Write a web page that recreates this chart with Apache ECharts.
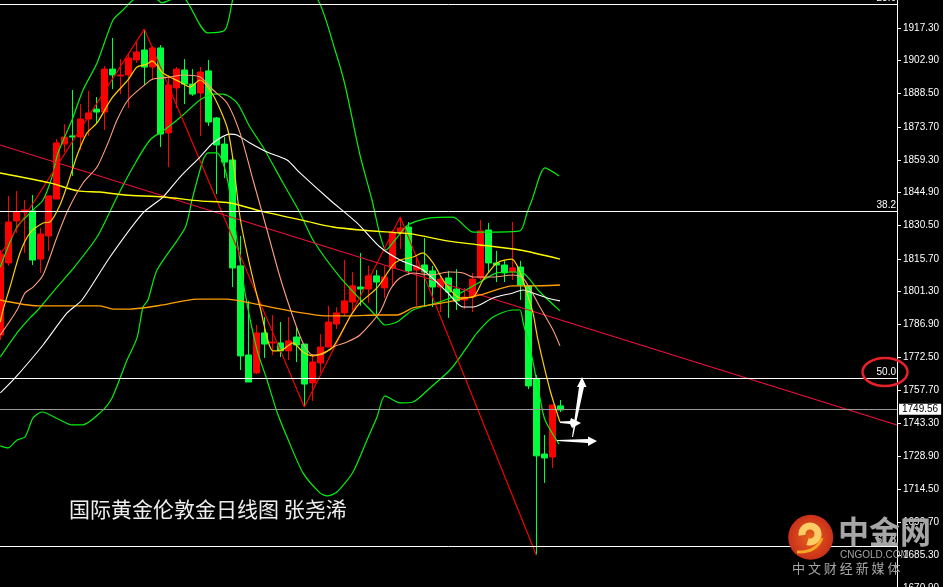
<!DOCTYPE html>
<html>
<head>
<meta charset="utf-8">
<style>html,body{margin:0;padding:0;background:#000;overflow:hidden}#c{width:945px;height:587px}</style>
<script src="https://cdn.jsdelivr.net/npm/echarts@6/dist/echarts.min.js"></script>
</head>
<body>
<div id="c"></div>
<script>
// candle values: [open, close, low, high], one per trading day (index = position)
var candles = [
[1782.2,1817.8,1780.0,1819.6],[1813.9,1831.9,1812.6,1843.4],[1832.4,1836.3,1827.1,1845.6],[1836.3,1837.2,1818.3,1841.6],
[1836.8,1815.2,1813.0,1843.8],[1815.6,1826.6,1809.5,1829.3],[1825.8,1843.4,1819.2,1843.4],[1842.0,1866.7,1842.0,1868.4],
[1866.2,1869.3,1862.7,1875.0],[1869.8,1869.3,1852.2,1890.0],[1869.3,1877.2,1863.6,1883.8],[1877.2,1879.9,1869.8,1889.6],
[1881.6,1880.3,1875.5,1886.9],[1880.3,1899.2,1872.4,1900.6],[1899.2,1896.6,1890.4,1912.9],[1896.2,1896.6,1888.2,1903.6],
[1896.6,1904.1,1882.1,1905.8],[1903.2,1906.7,1901.9,1911.1],[1907.6,1900.1,1892.2,1916.8],[1900.1,1908.5,1894.4,1909.4],
[1908.5,1870.6,1864.9,1909.8],[1871.1,1892.2,1856.1,1896.6],[1890.9,1899.2,1882.1,1900.1],[1898.8,1892.6,1883.8,1903.6],
[1892.6,1888.2,1887.4,1899.2],[1888.7,1897.9,1869.8,1900.1],[1898.4,1875.9,1874.2,1903.2],[1877.7,1865.8,1844.2,1878.1],
[1866.2,1858.3,1851.3,1869.3],[1859.2,1811.7,1803.3,1860.5],[1812.6,1773.0,1766.8,1825.8],[1773.4,1761.5,1761.5,1797.2],
[1765.5,1783.1,1765.0,1786.6],[1783.1,1778.2,1772.1,1790.1],[1778.7,1779.1,1773.4,1791.0],[1778.7,1775.2,1772.5,1787.9],
[1775.2,1779.6,1771.2,1790.1],[1781.3,1777.8,1770.3,1785.7],[1778.2,1760.6,1750.5,1778.2],[1761.1,1770.3,1753.2,1773.8],
[1769.9,1776.9,1765.5,1782.6],[1776.9,1787.9,1776.9,1795.0],[1787.0,1791.9,1784.8,1794.5],[1791.9,1797.2,1790.6,1815.2],
[1796.7,1803.8,1793.2,1809.9],[1803.3,1802.4,1795.0,1818.3],[1802.4,1808.2,1796.3,1812.6],[1808.2,1805.5,1791.4,1810.8],
[1802.9,1807.7,1798.5,1812.6],[1811.7,1827.5,1804.2,1828.4],[1827.1,1829.3,1820.0,1834.1],[1829.7,1810.4,1808.6,1831.9],
[1810.8,1812.6,1795.0,1816.5],[1813.0,1809.9,1794.5,1824.9],[1810.4,1803.3,1794.5,1812.6],[1803.3,1806.8,1792.3,1808.2],
[1807.3,1801.1,1789.7,1810.4],[1802.4,1797.2,1793.2,1811.2],[1797.6,1798.9,1793.6,1802.9],[1798.9,1806.8,1792.3,1809.5],
[1807.3,1828.0,1806.4,1832.8],[1828.4,1813.9,1809.5,1831.5],[1813.9,1813.0,1805.5,1819.2],[1813.0,1809.5,1805.5,1815.2],
[1809.9,1811.7,1806.4,1831.9],[1812.1,1804.2,1797.6,1814.8],[1803.8,1759.8,1758.4,1803.8],[1762.8,1729.0,1685.4,1764.6],
[1729.8,1728.1,1717.1,1738.2],[1728.5,1751.4,1723.7,1751.4],[1751.0,1749.2,1748.3,1753.6]
];
var candlePoints = candles.map(function (c, i) { return [i, c[0], c[1], c[2], c[3]]; });

var fastMA = [[0,1787.9],[0.34,1793.2],[1.21,1803.3],[2.46,1818.3],[3.71,1827.1],[5.34,1831.5],[6.21,1831.9],[7.46,1839.4],[8.46,1849.1],[9.71,1862.3],[10.84,1871.1],[12.09,1875.5],[13.96,1886.5],[15.96,1894.4],[17.09,1900.1],[18.34,1901.4],[18.96,1902.8],[20.34,1897.5],[22.46,1893.5],[23.71,1891.3],[24.96,1894.4],[26.59,1887.8],[28.34,1873.7],[29.09,1859.2],[29.96,1834.1],[30.96,1816.5],[32.46,1794.5],[34.09,1775.2],[35.21,1775.6],[36.59,1778.7],[37.84,1774.7],[39.09,1773.0],[40.34,1774.3],[41.59,1776.9],[43.71,1790.1],[44.96,1796.3],[47.09,1802.9],[49.09,1813.0],[49.96,1815.2],[51.59,1816.5],[52.84,1818.3],[54.09,1813.9],[55.34,1806.4],[56.59,1800.7],[57.46,1798.5],[59.09,1798.9],[60.34,1806.4],[62.09,1813.9],[63.96,1815.6],[64.96,1809.9],[65.84,1800.7],[66.59,1791.9],[67.21,1780.0],[68.71,1758.0],[69.96,1743.9]];
var salmonMA = [[0,1782.2],[2.09,1793.2],[3.09,1800.7],[4.09,1803.3],[5.34,1808.6],[7.09,1825.3],[8.46,1837.2],[10.34,1849.1],[12.09,1856.1],[13.46,1866.7],[14.59,1876.8],[15.96,1885.6],[18.34,1893.1],[19.09,1894.8],[21.21,1895.7],[22.84,1896.6],[24.96,1895.7],[26.59,1890.0],[28.34,1884.3],[29.96,1871.1],[31.59,1850.4],[33.34,1828.4],[34.96,1807.7],[36.59,1790.1],[37.84,1778.7],[39.09,1773.4],[40.34,1773.8],[41.59,1776.9],[43.34,1779.1],[44.96,1782.2],[47.46,1792.3],[48.71,1802.0],[49.96,1807.3],[51.59,1809.5],[53.71,1808.6],[56.21,1809.9],[57.84,1809.5],[59.09,1807.7],[61.59,1807.7],[64.09,1808.6],[65.34,1807.3],[67.46,1794.5],[69.09,1784.4],[69.96,1777.4]];
var whiteMA = [[0,1756.7],[1.84,1763.3],[5.34,1777.8],[8.34,1791.9],[10.21,1797.6],[13.71,1816.5],[17.84,1835.9],[20.34,1842.9],[22.46,1851.7],[24.96,1860.5],[26.59,1866.7],[28.71,1870.6],[29.59,1870.2],[31.21,1866.7],[33.34,1862.7],[35.84,1859.2],[37.46,1853.5],[41.21,1841.6],[44.59,1831.5],[47.46,1820.9],[49.96,1815.2],[52.84,1810.8],[55.84,1801.1],[57.84,1794.5],[59.09,1794.5],[61.59,1798.5],[64.09,1800.7],[65.34,1802.0],[66.21,1801.1],[68.34,1798.5],[69.96,1797.2]];
var yellowMA = [[-0.04,1853.5],[6.21,1849.1],[9.71,1845.6],[12.46,1845.1],[15.59,1843.8],[20.34,1842.9],[24.96,1841.2],[28.71,1840.3],[32.46,1836.8],[38.09,1832.4],[41.59,1829.7],[44.96,1828.4],[49.96,1827.1],[51.59,1826.6],[55.84,1823.6],[59.96,1821.8],[64.96,1819.6],[69.96,1815.6]];
var orangeMA = [[-0.04,1797.6],[4.71,1795.0],[12.46,1795.0],[14.09,1793.6],[16.21,1793.6],[20.34,1795.4],[24.59,1798.0],[28.34,1798.0],[31.21,1796.3],[36.21,1792.8],[40.84,1790.6],[43.71,1790.6],[47.46,1791.0],[49.59,1791.0],[51.59,1794.1],[55.84,1796.7],[59.96,1799.8],[64.09,1803.8],[66.21,1803.8],[69.96,1804.2]];
var bollUpper = [[0,1812.1],[2.09,1829.7],[4.09,1837.2],[5.34,1841.6],[6.46,1851.7],[7.21,1862.3],[8.96,1876.8],[10.34,1890.0],[12.09,1901.9],[14.09,1920.8],[15.34,1925.2],[16.59,1929.6],[18.09,1932.7],[19.71,1929.6],[20.21,1928.3],[21.21,1929.6],[22.21,1930.5],[23.21,1929.6],[25.96,1915.1],[28.09,1916.4],[28.96,1928.3],[29.46,1936.2],[35.0,1949.4],[39.71,1929.6],[41.84,1907.6],[43.09,1892.2],[44.96,1861.4],[46.46,1841.6],[47.46,1826.2],[48.21,1819.6],[49.34,1824.0],[50.96,1830.6],[53.71,1833.7],[56.59,1834.1],[59.09,1827.5],[61.59,1827.5],[64.96,1828.0],[65.84,1835.9],[66.46,1841.6],[68.09,1855.7],[69.84,1852.2]];
var bollMid = [[0,1772.5],[2.09,1783.1],[3.71,1789.7],[4.71,1793.2],[7.09,1803.3],[8.96,1810.8],[12.09,1825.3],[14.59,1842.9],[16.59,1856.1],[18.71,1868.0],[20.84,1873.3],[22.84,1879.0],[24.96,1885.6],[26.59,1888.2],[27.84,1888.2],[29.59,1884.3],[31.21,1873.7],[32.84,1864.9],[35.34,1849.1],[37.46,1835.9],[39.09,1824.0],[42.46,1807.7],[47.09,1790.1],[48.09,1786.6],[49.59,1787.9],[51.59,1793.2],[54.59,1796.3],[57.09,1799.8],[59.96,1805.5],[62.09,1809.5],[64.09,1809.9],[65.34,1809.5],[67.46,1801.1],[69.96,1792.8]];
var bollLower = [[0,1733.4],[0.96,1732.5],[2.09,1736.0],[3.09,1737.3],[4.09,1745.7],[5.21,1748.3],[7.46,1744.8],[8.96,1742.6],[10.21,1742.6],[12.46,1747.9],[13.96,1754.5],[15.84,1771.2],[17.09,1780.9],[17.84,1794.5],[18.46,1797.6],[19.59,1810.8],[23.09,1829.3],[23.96,1841.6],[25.34,1859.2],[25.96,1862.3],[27.09,1862.3],[27.84,1857.9],[28.46,1849.5],[29.34,1829.7],[30.59,1800.7],[32.09,1775.6],[33.34,1762.4],[34.59,1748.3],[35.84,1737.3],[37.84,1721.5],[39.96,1712.7],[40.84,1711.4],[42.09,1713.1],[44.09,1721.9],[45.84,1736.0],[47.09,1746.1],[48.09,1755.4],[49.96,1752.3],[51.59,1752.7],[53.71,1758.9],[56.21,1766.8],[58.09,1775.6],[59.59,1783.1],[61.59,1790.1],[64.09,1793.2],[64.96,1793.2],[65.34,1787.9],[66.46,1772.5],[67.46,1754.5],[68.09,1744.8],[69.84,1734.2]];
var zigzag = [[-0.04,1817.4],[18,1916.8],[38,1750.5],[50,1834.1],[67,1685.4]];
var trendLine = [[-0.04,1865.8],[112.09,1742.6]];

var fibLevels = [1927.8, 1836.8, 1763.0, 1689.1];
var fibLabels = ['23.6', '38.2', '50.0', '61.8'];
var lastPrice = 1749.56;
var priceTicks = [1917.30,1902.90,1888.50,1873.70,1859.30,1844.90,1830.50,1815.70,1801.30,1786.90,1772.50,1757.70,1743.30,1728.90,1714.50,1699.70,1685.30,1670.90];
var titleText = '国际黄金伦敦金日线图 张尧浠';

var AXIS_FONT = '"Liberation Sans",sans-serif';

function lineSeries(data, color, width, z, smooth) {
  return { type: 'line', data: data, showSymbol: false, symbol: 'none', smooth: smooth || false, silent: true,
    animation: false, z: z, lineStyle: { color: color, width: width } };
}

var levelLines = fibLevels.map(function (v, i) {
  return { yAxis: v, lineStyle: { color: '#ffffff', width: 1, type: 'solid' },
    label: { show: true, position: 'insideEndTop', distance: 1, formatter: fibLabels[i], color: '#fff',
      fontSize: 10, fontFamily: AXIS_FONT } };
});
levelLines.push({ yAxis: lastPrice, lineStyle: { color: '#9a9a9a', width: 1, type: 'solid' },
  label: { show: true, position: 'end', distance: 2, formatter: lastPrice.toFixed(2), color: '#000',
    backgroundColor: '#fff', padding: [1, 3, 0, 3], fontSize: 10, fontFamily: AXIS_FONT } });

var chart = echarts.init(document.getElementById('c'), null, { renderer: 'canvas' });
chart.setOption({
  animation: false,
  backgroundColor: '#000',
  grid: { left: 0, top: 0, width: 897, height: 597, containLabel: false, outerBoundsMode: 'none' },
  xAxis: { type: 'value', min: -0.04, max: 112.09, show: false, splitLine: { show: false } },
  yAxis: {
    type: 'value', position: 'right', min: 1666.9, max: 1929.6, scale: true,
    splitLine: { show: false },
    axisLine: { show: true, onZero: false, lineStyle: { color: '#fff', width: 1 } },
    axisTick: { show: true, customValues: priceTicks, length: 4, lineStyle: { color: '#fff' } },
    axisLabel: { show: true, customValues: priceTicks, color: '#fff', fontSize: 10, fontFamily: AXIS_FONT, margin: 6,
      formatter: function (v) { return v.toFixed(2); } }
  },
  series: [
    { type: 'candlestick', data: candlePoints, barWidth: 6, z: 2, silent: true, animation: false,
      encode: { x: 0, y: [1, 2, 3, 4] },
      itemStyle: { color: '#ff0000', color0: '#00ff3c', borderColor: '#ff0000', borderColor0: '#00ff3c', borderWidth: 1 },
      markLine: { silent: true, symbol: 'none', animation: false, precision: 2, data: levelLines } },
    lineSeries(bollUpper, '#00f010', 1.2, 3, 0.25),
    lineSeries(bollMid, '#00f010', 1.2, 3, 0.25),
    lineSeries(bollLower, '#00f010', 1.2, 3, 0.25),
    lineSeries(trendLine, '#f0103c', 1.1, 3),
    lineSeries(zigzag, '#ff0000', 1.1, 3),
    lineSeries(yellowMA, '#ffff00', 1.4, 4, 0.25),
    lineSeries(orangeMA, '#ffa000', 1.3, 4, 0.25),
    lineSeries(whiteMA, '#ffffff', 1.1, 4, 0.25),
    lineSeries(salmonMA, '#ffa07a', 1.1, 4, 0.25),
    lineSeries(fastMA, '#ffd000', 1.2, 5, 0.25)
  ],
  graphic: [
    { type: 'rect', z: 20, shape: { x: 943, y: 0, width: 2, height: 587 }, style: { fill: '#fff' } },
    // hand-drawn circle round the 50.0 level
    { type: 'ellipse', z: 20, shape: { cx: 885, cy: 372, rx: 22.5, ry: 14 }, style: { fill: null, stroke: '#e8202a', lineWidth: 2.5 } },
    // hand-drawn arrows
    { type: 'polygon', z: 20, shape: { points: [[582,377],[586.5,387],[584,387],[573,437],[572,437],[579,387],[577,387]] }, style: { fill: '#fff' } },
    { type: 'polygon', z: 20, shape: { points: [[560,421.5],[570,421],[571,418],[581,423],[572,428],[570,424],[560,423]] }, style: { fill: '#fff' } },
    { type: 'polygon', z: 20, shape: { points: [[557,440],[588,439],[588,436.5],[597,441],[588,446],[588,443],[557,441]] }, style: { fill: '#fff' } },
    { type: 'text', z: 20, style: { x: 69, y: 499, text: titleText, fill: '#eeeeee', fontSize: 21, fontFamily: '"Noto Sans CJK SC",sans-serif' } },
    // watermark
    { type: 'circle', z: 21, shape: { cx: 810.7, cy: 537.3, r: 22.5 }, style: { fill: new echarts.graphic.RadialGradient(0.5, 0.5, 0.5, [{ offset: 0, color: '#e8601c' }, { offset: 1, color: '#c8301a' }]) } },
    { type: 'arc', z: 22, shape: { cx: 810, cy: 534, r: 8, startAngle: Math.PI * 0.95, endAngle: Math.PI * 0.6, clockwise: true }, style: { fill: null, stroke: '#ffcc66', lineWidth: 7 } },
    { type: 'bezierCurve', z: 22, shape: { x1: 797, y1: 552, cpx1: 816, cpy1: 553, x2: 822, y2: 538 }, style: { fill: null, stroke: '#f5a623', lineWidth: 3 } },
    { type: 'text', z: 21, style: { x: 838, y: 516, text: '中金网', fill: '#a6a6a6', fontSize: 31, fontWeight: 'bold', fontFamily: '"Noto Sans CJK SC",sans-serif' } },
    { type: 'text', z: 21, style: { x: 840, y: 550, text: 'CNGOLD.COM', fill: '#a6a6a6', fontSize: 10, fontFamily: '"Liberation Sans",sans-serif' } },
    { type: 'text', z: 21, style: { x: 792, y: 562, text: '中 文 财 经 新 媒 体', fill: '#a6a6a6', fontSize: 13, fontFamily: '"Noto Sans CJK SC",sans-serif' } }
  ]
});
</script>
</body>
</html>
